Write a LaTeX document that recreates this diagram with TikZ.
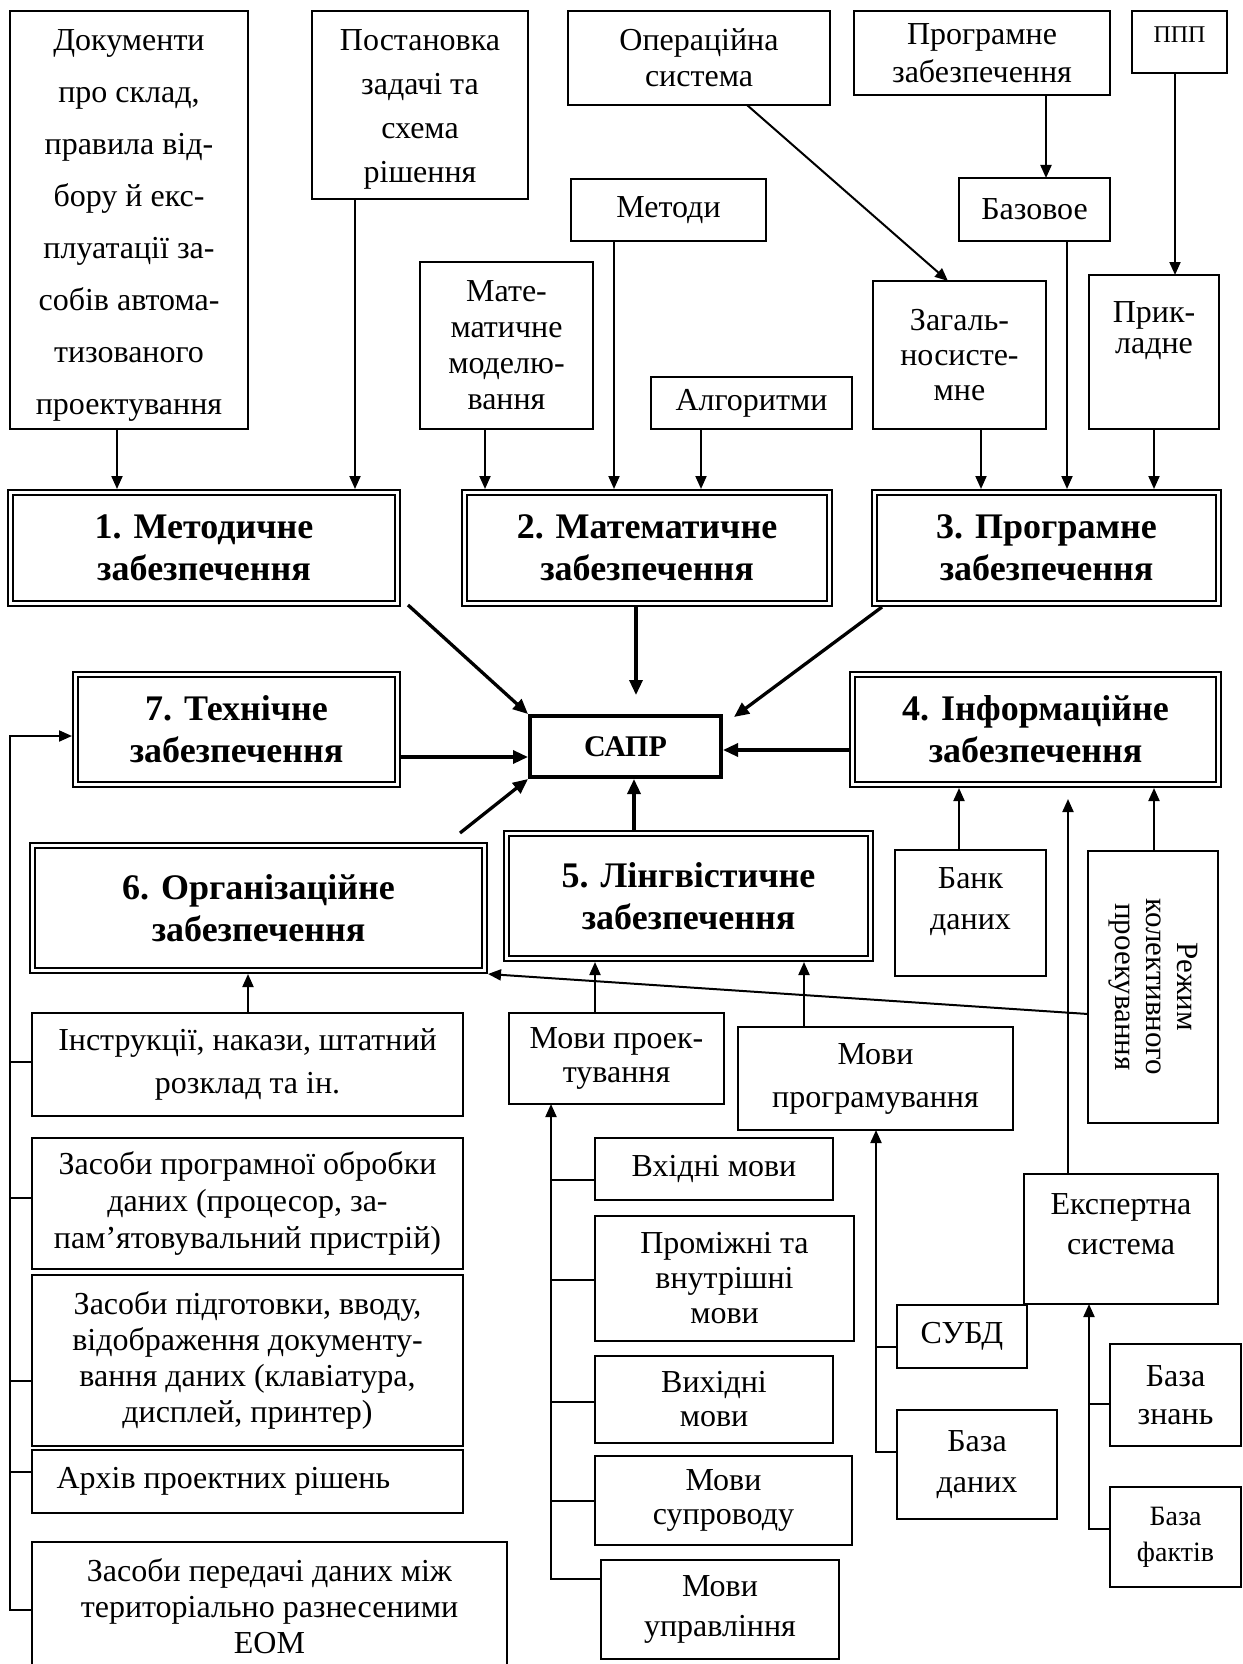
\documentclass[tikz,border=0pt]{standalone}
\usepackage{fontspec}
\setmainfont{Liberation Serif}
\usetikzlibrary{arrows.meta,calc}

\newcommand\fsz[2]{\fontsize{#1}{#2}\selectfont}
% box from corner (x0,y0) to (x1,y1): [options]{name}{x0}{y0}{x1}{y1}{text}
\newcommand\bxn[7][]{\node[bx,minimum width={(#5-#3)*1pt},minimum height={(#6-#4)*1pt},#1] (#2) at ({(#3+#5)/2},{(#4+#6)/2}) {#7};}

\tikzset{
  bx/.style={draw, line width=1.8pt, inner sep=0pt, outer sep=0pt, align=center, font=\fsz{32}{36}},
  dbl/.style={double, double distance=2.2pt, line width=2.3pt, outer sep=3.5pt, font=\bfseries\fsz{36}{42}},
  ar/.style={-{Triangle[length=13pt,width=11pt]}, line width=2pt},
  art/.style={-{Triangle[length=15pt,width=13pt]}, line width=3.3pt},
  ln/.style={line width=1.8pt},
}

\begin{document}
\begin{tikzpicture}[x=1pt,y=-1pt]
\useasboundingbox (0,0) rectangle (1242,1664);
\clip (0,0) rectangle (1242,1664);
\fill[white] (0,0) rectangle (1242,1664);

% ---- upper sources ----
\bxn[label={[align=center,font=\fsz{32}{52},yshift=-5pt]center:Документи\\про склад,\\правила від-\\бору й екс-\\плуатації за-\\собів автома-\\тизованого\\проектування}]{doc}{10}{11}{248}{429}{}
\bxn[label={[align=center,font=\fsz{32}{44},yshift=-4pt]center:Постановка\\задачі та\\схема\\рішення}]{post}{312}{11}{528}{199}{}
\bxn{oper}{568}{11}{830}{105}{Операційна\\система}
\bxn[font=\fsz{32}{38}]{progz}{854}{11}{1110}{95}{Програмне\\забезпечення}
\bxn[label={[font=\fsz{24}{28},yshift=7pt]center:ППП}]{ppp}{1132}{11}{1227}{73}{}
\bxn{metody}{571}{179}{766}{241}{Методи}
\bxn{bazove}{959}{178}{1110}{241}{Базовое}
\bxn[font=\fsz{32}{36}]{mate}{420}{262}{593}{429}{Мате-\\матичне\\моделю-\\вання}
\bxn{algo}{651}{377}{852}{429}{Алгоритми}
\bxn[font=\fsz{32}{35}]{zag}{873}{281}{1046}{429}{Загаль-\\носисте-\\мне}
\bxn[label={[align=center,font=\fsz{32}{31},yshift=21pt]center:Прик-\\ладне}]{prykl}{1089}{275}{1219}{429}{}

% ---- subsystems ----
\bxn[dbl]{box1}{10.5}{492.5}{397.5}{603.5}{1. Методичне\\забезпечення}
\bxn[dbl]{box2}{464.5}{492.5}{829.5}{603.5}{2. Математичне\\забезпечення}
\bxn[dbl]{box3}{874.5}{492.5}{1218.5}{603.5}{3. Програмне\\забезпечення}
\bxn[dbl]{box7}{75.5}{674.5}{397.5}{784.5}{7. Технічне\\забезпечення}
\bxn[dbl]{box4}{852.5}{674.5}{1218.5}{784.5}{4. Інформаційне\\забезпечення}
\bxn[dbl]{box6}{32.5}{845.5}{484.5}{970.5}{6. Організаційне\\забезпечення}
\bxn[dbl]{box5}{506.5}{833.5}{870.5}{958.5}{5. Лінгвістичне\\забезпечення}
\bxn[line width=4pt, outer sep=2pt, font=\bfseries\fsz{30}{36}]{sapr}{530}{716}{721}{777}{САПР}

% ---- information support ----
\bxn[label={[align=center,font=\fsz{32}{41},yshift=11pt]center:Банк\\даних}]{bank}{895}{850}{1046}{976}{}
\bxn[label={[align=center,font=\fsz{31}{31},rotate=-90]center:Режим\\колективного\\проекування}]{rezhym}{1088}{851}{1218}{1123}{}

% ---- organisational and technical means ----
\bxn[font=\fsz{32}{43}]{instr}{32}{1013}{463}{1116}{Інструкції, накази, штатний\\розклад та ін.}
\bxn[font=\fsz{32}{37}]{zprog}{32}{1138}{463}{1269}{Засоби програмної обробки\\даних (процесор, за-\\пам’ятовувальний пристрій)}
\bxn[font=\fsz{32}{36}]{zpidg}{32}{1275}{463}{1446}{Засоби підготовки, вводу,\\відображення документу-\\вання даних (клавіатура,\\дисплей, принтер)}
\bxn[label={[anchor=west,xshift=21pt,font=\fsz{32}{36}]west:Архів проектних рішень}]{arch}{32}{1450}{463}{1513}{}
\bxn[font=\fsz{32}{36}]{zpered}{32}{1542}{507}{1670}{Засоби передачі даних між\\територіально разнесеними\\ЕОМ}

% ---- languages ----
\bxn[font=\fsz{32}{34}]{mproekt}{509}{1013}{724}{1104}{Мови проек-\\тування}
\bxn[font=\fsz{32}{43}]{mprog}{738}{1027}{1013}{1130}{Мови\\програмування}
\bxn{vkhid}{595}{1138}{833}{1200}{Вхідні мови}
\bxn[font=\fsz{32}{35}]{promizh}{595}{1216}{854}{1341}{Проміжні та\\внутрішні\\мови}
\bxn[font=\fsz{32}{34}]{vykhid}{595}{1356}{833}{1443}{Вихідні\\мови}
\bxn[font=\fsz{32}{34}]{suprov}{595}{1456}{852}{1545}{Мови\\супроводу}
\bxn[font=\fsz{32}{40}]{uprav}{601}{1560}{839}{1659}{Мови\\управління}

% ---- databases and expert system ----
\bxn[label={[align=center,font=\fsz{32}{40},yshift=15pt]center:Експертна\\система}]{expert}{1024}{1174}{1218}{1304}{}
\bxn{subd}{897}{1305}{1027}{1368}{СУБД}
\bxn[font=\fsz{32}{41}]{bdanykh}{897}{1410}{1057}{1519}{База\\даних}
\bxn[font=\fsz{32}{38}]{bznan}{1110}{1344}{1241}{1446}{База\\знань}
\bxn[font=\fsz{28}{36}]{bfakt}{1110}{1487}{1241}{1587}{База\\фактів}

% ---- arrows into the subsystems ----
\draw[ar] (doc.south -| 117,0) -- (box1.north -| 117,0);
\draw[ar] (post.south -| 355,0) -- (box1.north -| 355,0);
\draw[ar] (mate.south -| 485,0) -- (box2.north -| 485,0);
\draw[ar] (metody.south -| 614,0) -- (box2.north -| 614,0);
\draw[ar] (algo.south -| 701,0) -- (box2.north -| 701,0);
\draw[ar] (zag.south -| 981,0) -- (box3.north -| 981,0);
\draw[ar] (bazove.south -| 1067,0) -- (box3.north -| 1067,0);
\draw[ar] (prykl.south -| 1154,0) -- (box3.north -| 1154,0);
\draw[ar] (progz.south -| 1046,0) -- (bazove.north -| 1046,0);
\draw[ar] (ppp.south -| 1175,0) -- (prykl.north -| 1175,0);
\draw[ar] (oper.south -| 747,0) -- (zag.north -| 948,0);

% ---- arrows into САПР ----
\draw[art] ($(box1.south east)+(7,-2)$) -- (sapr.north west);
\draw[art] (box2.south -| 636,0) -- ($(sapr.north -| 636,0)+(0,-19)$);
\draw[art] ($(box3.south west)+(11,0)$) -- ($(sapr.north east)+(11,3)$);
\draw[art] (box7.east |- 0,757) -- (sapr.west |- 0,757);
\draw[art] (box4.west |- 0,750) -- (sapr.east |- 0,750);
\draw[art] (box5.north -| 634,0) -- (sapr.south -| 634,0);
\draw[art] ($(box6.north east)+(-28,-9)$) -- (sapr.south west);

% ---- lower feeds ----
\draw[ar] (bank.north -| 959,0) -- (box4.south -| 959,0);
\draw[ar] (rezhym.north -| 1154,0) -- (box4.south -| 1154,0);
\draw[ar] (expert.north -| 1068,0) -- ($(box4.south -| 1068,0)+(0,11)$);
\draw[ar] (rezhym.west |- 0,1014) -- (box6.south east);
\draw[ar] (mproekt.north -| 595,0) -- (box5.south -| 595,0);
\draw[ar] (mprog.north -| 804,0) -- (box5.south -| 804,0);
\draw[ar] (instr.north -| 248,0) -- (box6.south -| 248,0);

% ---- bus of technical means ----
\coordinate (lb) at (10,736);
\draw[ar] (zpered.west |- 0,1610) -| (lb) -- (box7.west |- lb);
\draw[ln] (lb |- 0,1062) -- (instr.west |- 0,1062);
\draw[ln] (lb |- 0,1198) -- (zprog.west |- 0,1198);
\draw[ln] (lb |- 0,1381) -- (zpidg.west |- 0,1381);
\draw[ln] (lb |- 0,1472) -- (arch.west |- 0,1472);

% ---- bus of design languages ----
\coordinate (lang) at (551,0);
\draw[ar] (uprav.west |- 0,1579) -| (mproekt.south -| lang);
\draw[ln] (lang |- 0,1180) -- (vkhid.west |- 0,1180);
\draw[ln] (lang |- 0,1280) -- (promizh.west |- 0,1280);
\draw[ln] (lang |- 0,1402) -- (vykhid.west |- 0,1402);
\draw[ln] (lang |- 0,1501) -- (suprov.west |- 0,1501);

% ---- bus of programming languages ----
\coordinate (pb) at (876,0);
\draw[ar] (bdanykh.west |- 0,1452) -| (mprog.south -| pb);
\draw[ln] (pb |- 0,1347) -- (subd.west |- 0,1347);

% ---- bus of the expert system ----
\coordinate (eb) at (1089,0);
\draw[ar] (bfakt.west |- 0,1529) -| (expert.south -| eb);
\draw[ln] (eb |- 0,1404) -- (bznan.west |- 0,1404);
\end{tikzpicture}
\end{document}
